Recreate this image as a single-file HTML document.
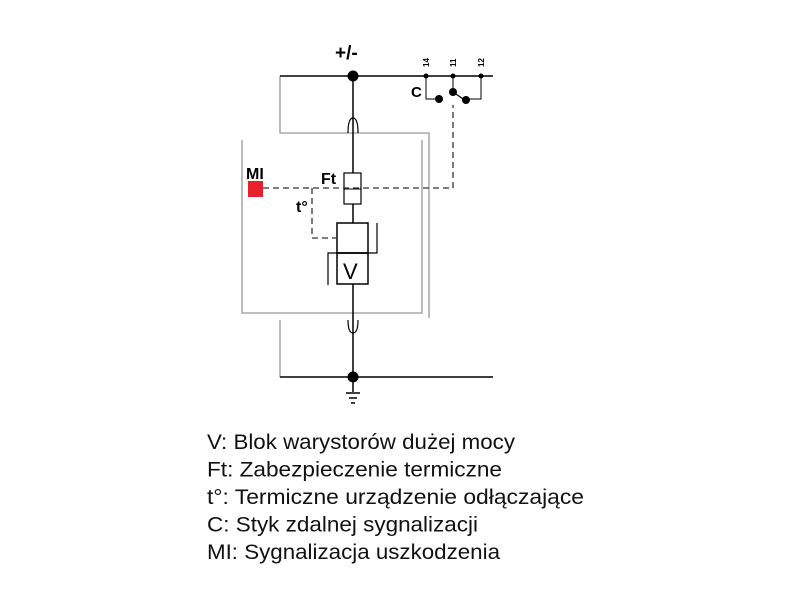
<!DOCTYPE html>
<html><head><meta charset="utf-8"><style>html,body{margin:0;padding:0;background:#fff}svg{display:block}</style></head><body>
<svg width="800" height="600" viewBox="0 0 800 600" xmlns="http://www.w3.org/2000/svg" font-family="Liberation Sans, sans-serif">
<g fill="none" stroke="#999" stroke-width="1.3">
<polyline points="280,76 280,133 429,133 429,318"/>
<polyline points="242,140 242,313 422,313 422,140"/>
<polyline points="280,320 280,377"/>
</g>
<g stroke="#000" stroke-width="1.5" fill="none">
<line x1="280" y1="76" x2="493" y2="76"/>
<line x1="280" y1="377" x2="493" y2="377"/>
<line x1="353" y1="76" x2="353" y2="173"/>
<line x1="353" y1="204" x2="353" y2="223"/>
<line x1="353" y1="284" x2="353" y2="392"/>
<path d="M348,133 Q348,118 353,118 Q358,118 358,133" stroke-width="1.2"/>
<path d="M348,320 Q348,333 353,333 Q358,333 358,320" stroke-width="1.2"/>
<line x1="346" y1="393" x2="360" y2="393"/>
<line x1="349" y1="398" x2="357" y2="398"/>
<line x1="351" y1="403" x2="355" y2="403"/>
<rect x="344" y="173" width="17" height="31" stroke-width="1.2"/>
<line x1="344" y1="189" x2="361" y2="189" stroke-width="1"/>
<rect x="337" y="223" width="31" height="30" stroke-width="1.5"/>
<rect x="337" y="253" width="31" height="31" stroke-width="1.5"/>
<polyline points="377,223 377,253 328,253 328,285" stroke-width="1.2"/>
<polyline points="426,76 426,99 439,99" stroke-width="1"/>
<polyline points="481,76 481,99 466,99" stroke-width="1"/>
<line x1="453" y1="76" x2="453" y2="92" stroke-width="1"/>
<line x1="453" y1="92" x2="466" y2="101" stroke-width="1.2"/>
</g>
<g stroke="#333" stroke-width="1.3" fill="none" stroke-dasharray="6,4">
<polyline points="263,188 453,188 453,105"/>
<polyline points="312,188 312,238 337,238"/>
</g>
<g fill="#000">
<circle cx="353" cy="76" r="5.5"/>
<circle cx="353" cy="377" r="5.5"/>
<circle cx="426" cy="76" r="2.5"/>
<circle cx="453" cy="76" r="2.5"/>
<circle cx="481" cy="76" r="2.5"/>
<circle cx="439" cy="99" r="4"/>
<circle cx="453" cy="92" r="4"/>
<circle cx="466" cy="100" r="4"/>
</g>
<rect x="248" y="181" width="15" height="16" fill="#e8222a"/>
<g font-weight="bold" fill="#000">
<text x="335" y="59" font-size="19">+/-</text>
<text x="411" y="97" font-size="15">C</text>
<text x="246" y="179" font-size="16">MI</text>
<text x="321" y="184" font-size="16">Ft</text>
<text x="296" y="212" font-size="16">t°</text>
<text font-size="8" transform="translate(429,67) rotate(-90)">14</text>
<text font-size="8" transform="translate(456,67) rotate(-90)">11</text>
<text font-size="8" transform="translate(484,67) rotate(-90)">12</text>
</g>
<text x="343" y="279" font-size="22" fill="#000">V</text>
<g font-size="21" fill="#111">
<text x="207" y="449" textLength="308" lengthAdjust="spacingAndGlyphs">V: Blok warystorów dużej mocy</text>
<text x="207" y="476.5" textLength="295" lengthAdjust="spacingAndGlyphs">Ft: Zabezpieczenie termiczne</text>
<text x="207" y="504" textLength="377" lengthAdjust="spacingAndGlyphs">t°: Termiczne urządzenie odłączające</text>
<text x="207" y="531.5" textLength="271" lengthAdjust="spacingAndGlyphs">C: Styk zdalnej sygnalizacji</text>
<text x="207" y="559" textLength="293" lengthAdjust="spacingAndGlyphs">MI: Sygnalizacja uszkodzenia</text>
</g>
</svg>
</body></html>
